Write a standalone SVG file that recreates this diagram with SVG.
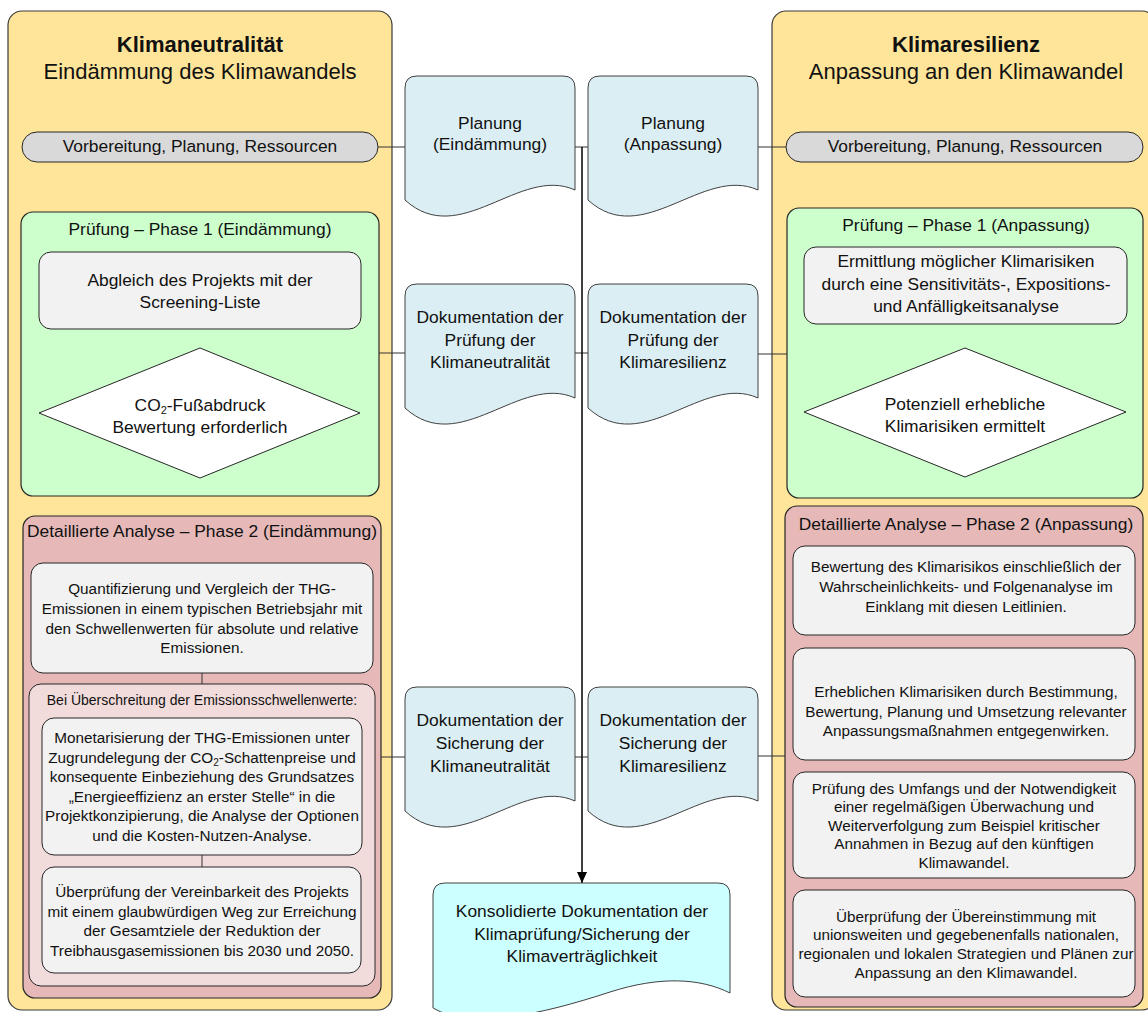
<svg xmlns="http://www.w3.org/2000/svg" xmlns:xlink="http://www.w3.org/1999/xlink" width="1148" height="1012" viewBox="0 0 1148 1012">
<style>
  .t { font-family: "Liberation Sans", Arial, sans-serif; fill: #111; text-anchor: middle; }
  .f22 { font-size: 22px; }
  .f17 { font-size: 17.4px; }
  .f15 { font-size: 15.3px; }
  .f14 { font-size: 14px; }
  .b { font-weight: bold; }
  .panel { fill: #FFE599; stroke: #3a3a3a; stroke-width: 1.2; }
  .pill { fill: #D9D9D9; stroke: #262626; stroke-width: 1; }
  .green { fill: #CCFFCC; stroke: #262626; stroke-width: 1.2; }
  .red { fill: #E6B9B8; stroke: #262626; stroke-width: 1.2; }
  .pink { fill: #F2DCDB; stroke: #262626; stroke-width: 1; }
  .gray { fill: #F2F2F2; stroke: #262626; stroke-width: 1; }
  .dia { fill: #FFFFFF; stroke: #262626; stroke-width: 1; }
  .doc { fill: #DBEEF3; stroke: #404040; stroke-width: 1; }
  .final { fill: #CCFFFF; stroke: #404040; stroke-width: 1; }
  .conn { fill: none; stroke: #333; stroke-width: 1; }
  .main { fill: none; stroke: #000; stroke-width: 1.5; }
</style>
<defs>
  <path id="docshape" d="M0,12 Q0,0 12,0 H158 Q170,0 170,12 V114 C115,89 55,174 0,124 Z"/>
  <marker id="arrow" markerUnits="userSpaceOnUse" markerWidth="12" markerHeight="10" refX="11" refY="5" orient="auto">
    <path d="M0,0 L11,5 L0,10 Z" fill="#000"/>
  </marker>
</defs>

<g id="panel-left">
  <rect class="panel" x="8" y="11" width="384" height="999" rx="14"/>
  <text class="t f22 b" x="200" y="52">Klimaneutralität</text>
  <text class="t f22" x="200" y="79">Eindämmung des Klimawandels</text>
</g>
<g id="panel-right">
  <rect class="panel" x="772" y="11" width="384" height="999" rx="14"/>
  <text class="t f22 b" x="966" y="52">Klimaresilienz</text>
  <text class="t f22" x="966" y="79">Anpassung an den Klimawandel</text>
</g>

<g id="prep-left">
  <rect class="pill" x="22" y="132" width="356" height="30" rx="15"/>
  <text class="t f17" x="200" y="152">Vorbereitung, Planung, Ressourcen</text>
</g>
<g id="prep-right">
  <rect class="pill" x="786" y="132" width="357" height="30" rx="15"/>
  <text class="t f17" x="965" y="152">Vorbereitung, Planung, Ressourcen</text>
</g>

<g id="phase1-left">
  <rect class="green" x="21" y="212" width="358" height="284" rx="12"/>
  <text class="t f17" x="200" y="235">Prüfung – Phase 1 (Eindämmung)</text>
</g>
<g id="screening-left">
  <rect class="gray" x="39" y="252" width="322" height="77" rx="12"/>
  <text class="t f17" x="200" y="286">Abgleich des Projekts mit der</text>
  <text class="t f17" x="200" y="308">Screening-Liste</text>
</g>
<g id="decision-left">
  <polygon class="dia" points="39,413 200,348 360,413 200,478"/>
  <text class="t f17" x="200" y="411">CO<tspan font-size="11" dy="3">2</tspan><tspan dy="-3">-Fußabdruck</tspan></text>
  <text class="t f17" x="200" y="433">Bewertung erforderlich</text>
</g>

<g id="phase1-right">
  <rect class="green" x="787" y="208" width="356" height="290" rx="12"/>
  <text class="t f17" x="966" y="231">Prüfung – Phase 1 (Anpassung)</text>
</g>
<g id="screening-right">
  <rect class="gray" x="804" y="247" width="323" height="77" rx="12"/>
  <text class="t f17" x="966" y="267">Ermittlung möglicher Klimarisiken</text>
  <text class="t f17" x="966" y="289.5">durch eine Sensitivitäts-, Expositions-</text>
  <text class="t f17" x="966" y="312">und Anfälligkeitsanalyse</text>
</g>
<g id="decision-right">
  <polygon class="dia" points="804,412 965,348 1126,412 965,477"/>
  <text class="t f17" x="965" y="410">Potenziell erhebliche</text>
  <text class="t f17" x="965" y="432">Klimarisiken ermittelt</text>
</g>

<g id="phase2-left">
  <rect class="red" x="23" y="516" width="358" height="482" rx="12"/>
  <text class="t f17" x="202" y="537">Detaillierte Analyse – Phase 2 (Eindämmung)</text>
</g>
<g id="quant-left">
  <rect class="gray" x="31" y="563" width="342" height="110" rx="12"/>
  <text class="t f15" x="202" y="594">Quantifizierung und Vergleich der THG-</text>
  <text class="t f15" x="202" y="614">Emissionen in einem typischen Betriebsjahr mit</text>
  <text class="t f15" x="202" y="634">den Schwellenwerten für absolute und relative</text>
  <text class="t f15" x="202" y="653">Emissionen.</text>
</g>
<g id="exceed-left">
  <rect class="pink" x="29" y="684" width="346" height="302" rx="12"/>
  <text class="t f14" x="202" y="704.5">Bei Überschreitung der Emissionsschwellenwerte:</text>
</g>
<g id="monet-left">
  <rect class="gray" x="42" y="718" width="320" height="137" rx="12"/>
  <text class="t f15" x="202" y="743">Monetarisierung der THG-Emissionen unter</text>
  <text class="t f15" x="202" y="762.5">Zugrundelegung der CO<tspan font-size="10" dy="3">2</tspan><tspan dy="-3">-Schattenpreise und</tspan></text>
  <text class="t f15" x="202" y="782">konsequente Einbeziehung des Grundsatzes</text>
  <text class="t f15" x="202" y="801.5">„Energieeffizienz an erster Stelle“ in die</text>
  <text class="t f15" x="202" y="821">Projektkonzipierung, die Analyse der Optionen</text>
  <text class="t f15" x="202" y="840.5">und die Kosten-Nutzen-Analyse.</text>
</g>
<g id="compat-left">
  <rect class="gray" x="42" y="867" width="319" height="106" rx="12"/>
  <text class="t f15" x="202" y="897">Überprüfung der Vereinbarkeit des Projekts</text>
  <text class="t f15" x="202" y="916.5">mit einem glaubwürdigen Weg zur Erreichung</text>
  <text class="t f15" x="202" y="936">der Gesamtziele der Reduktion der</text>
  <text class="t f15" x="202" y="955.5">Treibhausgasemissionen bis 2030 und 2050.</text>
</g>

<g id="phase2-right">
  <rect class="red" x="785" y="506" width="358" height="501" rx="12"/>
  <text class="t f17" x="966" y="530">Detaillierte Analyse – Phase 2 (Anpassung)</text>
</g>
<g id="risk-right">
  <rect class="gray" x="793" y="546" width="342" height="89" rx="12"/>
  <text class="t f15" x="966" y="572">Bewertung des Klimarisikos einschließlich der</text>
  <text class="t f15" x="966" y="592">Wahrscheinlichkeits- und Folgenanalyse im</text>
  <text class="t f15" x="966" y="611.5">Einklang mit diesen Leitlinien.</text>
</g>
<g id="measures-right">
  <rect class="gray" x="793" y="648" width="342" height="112" rx="12"/>
  <text class="t f15" x="966" y="697">Erheblichen Klimarisiken durch Bestimmung,</text>
  <text class="t f15" x="966" y="716.5">Bewertung, Planung und Umsetzung relevanter</text>
  <text class="t f15" x="966" y="735.5">Anpassungsmaßnahmen entgegenwirken.</text>
</g>
<g id="monitor-right">
  <rect class="gray" x="793" y="772" width="342" height="106" rx="12"/>
  <text class="t f15" x="964" y="793.5">Prüfung des Umfangs und der Notwendigkeit</text>
  <text class="t f15" x="964" y="812">einer regelmäßigen Überwachung und</text>
  <text class="t f15" x="964" y="830.5">Weiterverfolgung zum Beispiel kritischer</text>
  <text class="t f15" x="964" y="849">Annahmen in Bezug auf den künftigen</text>
  <text class="t f15" x="964" y="868">Klimawandel.</text>
</g>
<g id="strategy-right">
  <rect class="gray" x="793" y="890" width="342" height="107" rx="12"/>
  <text class="t f15" x="966" y="921.5">Überprüfung der Übereinstimmung mit</text>
  <text class="t f15" x="966" y="940">unionsweiten und gegebenenfalls nationalen,</text>
  <text class="t f15" x="966" y="958.5">regionalen und lokalen Strategien und Plänen zur</text>
  <text class="t f15" x="966" y="977.5">Anpassung an den Klimawandel.</text>
</g>

<g id="connectors">
  <path class="conn" d="M378,147 H405"/>
  <path class="conn" d="M575,147 H588"/>
  <path class="conn" d="M758,147 H786"/>
  <path class="conn" d="M379,353 H405"/>
  <path class="conn" d="M575,353 H588"/>
  <path class="conn" d="M758,354 H787"/>
  <path class="conn" d="M381,757 H405"/>
  <path class="conn" d="M575,757 H588"/>
  <path class="conn" d="M758,756 H785"/>
  <path class="conn" d="M202,673 V684"/>
  <path class="conn" d="M202,855 V867"/>
  <path class="main" d="M582,147 V883" marker-end="url(#arrow)"/>
</g>

<g id="doc-plan-left">
  <use xlink:href="#docshape" href="#docshape" class="doc" x="405" y="76"/>
  <text class="t f17" x="490" y="129">Planung</text>
  <text class="t f17" x="490" y="150">(Eindämmung)</text>
</g>
<g id="doc-plan-right">
  <use xlink:href="#docshape" href="#docshape" class="doc" x="588" y="76"/>
  <text class="t f17" x="673" y="129">Planung</text>
  <text class="t f17" x="673" y="150">(Anpassung)</text>
</g>
<g id="doc-check-left">
  <use xlink:href="#docshape" href="#docshape" class="doc" x="405" y="284"/>
  <text class="t f17" x="490" y="323">Dokumentation der</text>
  <text class="t f17" x="490" y="345.5">Prüfung der</text>
  <text class="t f17" x="490" y="368">Klimaneutralität</text>
</g>
<g id="doc-check-right">
  <use xlink:href="#docshape" href="#docshape" class="doc" x="588" y="284"/>
  <text class="t f17" x="673" y="323">Dokumentation der</text>
  <text class="t f17" x="673" y="345.5">Prüfung der</text>
  <text class="t f17" x="673" y="368">Klimaresilienz</text>
</g>
<g id="doc-proof-left">
  <use xlink:href="#docshape" href="#docshape" class="doc" x="405" y="687"/>
  <text class="t f17" x="490" y="726">Dokumentation der</text>
  <text class="t f17" x="490" y="749">Sicherung der</text>
  <text class="t f17" x="490" y="771.5">Klimaneutralität</text>
</g>
<g id="doc-proof-right">
  <use xlink:href="#docshape" href="#docshape" class="doc" x="588" y="687"/>
  <text class="t f17" x="673" y="726">Dokumentation der</text>
  <text class="t f17" x="673" y="749">Sicherung der</text>
  <text class="t f17" x="673" y="771.5">Klimaresilienz</text>
</g>

<g id="doc-final">
  <path class="final" d="M433,895 Q433,883 445,883 H718 Q730,883 730,895 V993 C700,978 660,976 610,992 C540,1015 470,1030 433,1008 Z"/>
  <text class="t f17" x="582" y="917">Konsolidierte Dokumentation der</text>
  <text class="t f17" x="582" y="939.5">Klimaprüfung/Sicherung der</text>
  <text class="t f17" x="582" y="962">Klimaverträglichkeit</text>
</g>
</svg>
